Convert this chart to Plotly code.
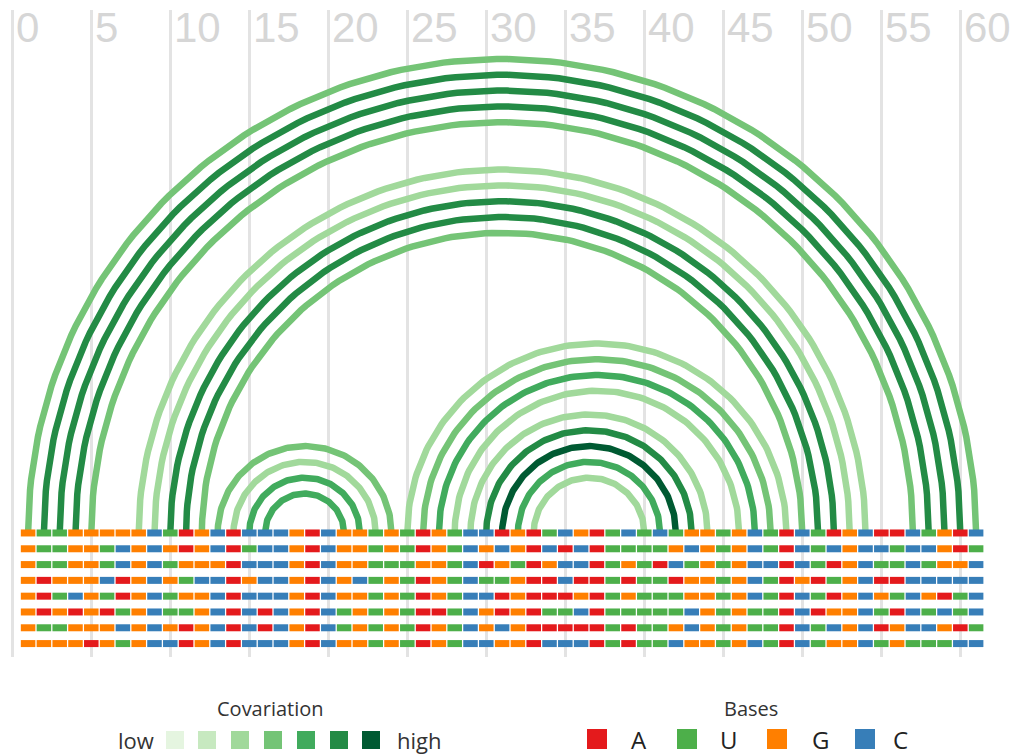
import numpy as np
import plotly.graph_objects as go

# Position ruler
tick_values = list(range(0, 61, 5))

# Base pairs: 5' partner, 3' partner, covariation level (1 = low ... 7 = high)
pair_start = [1, 2, 3, 4, 5, 8, 9, 10, 11, 12, 13, 14, 15, 16,
              25, 26, 27, 28, 29, 30, 31, 32, 33]
pair_end = [61, 60, 59, 58, 57, 54, 53, 52, 51, 50, 24, 23, 22, 21,
            49, 48, 47, 46, 44, 43, 42, 41, 40]
pair_level = [4, 6, 6, 6, 4, 3, 3, 6, 6, 4, 4, 3, 5, 5,
              3, 4, 5, 3, 3, 6, 7, 5, 3]

# Aligned sequences, one string per row (positions 1..61)
sequence_rows = [
    "GUUGGGGGCU" "AGCACCCGAC" "GGUGUAGUCC" "AGAUCGAUCU" "CUGGUGCUAC" "UAGCAACUGAC",
    "GUUGGUCGCG" "AGCAUCCGAC" "GGUGUAGUCG" "CGACACAUUU" "UGCGUGCUAC" "UCGCCUCCGAU",
    "GUUGGUCGCU" "GGGACCCGAC" "GGUUUGGUCA" "GUAGCCAUGU" "ACUGUGCCAC" "UAGCUUCUGGC",
    "GAGGGCAGCG" "UCCAGCCGAC" "GCUGUAGUCU" "UGAACAAUAU" "UAGGUGCUAG" "AUGCAACCCCC",
    "GAUCGUAGCU" "GGCACCCGAC" "GGUGUAGUCC" "AGAAAGAUGU" "UUGGUGCUAC" "UAGCGUCGAUC",
    "GAGAGAUGCU" "UGCACACGAC" "UGUGUAAUCG" "AGAUUCAUUU" "UUCGUGUUAC" "AGGCUACUCUC",
    "GUUGGGCGCG" "AGCACACGAC" "UGUGUAGUCG" "CGAAAAAUAU" "UGCGUGUUAC" "UCGCAGCCGAU",
    "GGGGAGUGCC" "AGCACCCGAC" "GGUGUAGUCC" "GGACCCAUAU" "UCGGUGCUAC" "UGGCUGUUUCC",
]

base_names = ["A", "U", "G", "C"]
base_colors = ["#e41a1c", "#4daf4a", "#ff7f00", "#377eb8"]
cov_colors = ["#e5f5e0", "#c7e9c0", "#a1d99b", "#74c476",
              "#41ab5d", "#238b45", "#005a32"]

fig = go.Figure()

# Arcs: semicircles joining paired positions
theta = np.linspace(0, np.pi, 140)
for s, e, lv in zip(pair_start, pair_end, pair_level):
    c = (s + e) / 2.0
    r = (e - s) / 2.0
    fig.add_trace(go.Scatter(
        x=c + r * np.cos(theta), y=r * np.sin(theta),
        mode="lines", line=dict(color=cov_colors[lv - 1], width=6.5),
        hoverinfo="skip", showlegend=False))

# Sequence rows: one short segment per nucleotide
for name, color in zip(base_names, base_colors):
    xs, ys = [], []
    for row, seq in enumerate(sequence_rows):
        for i, b in enumerate(seq, start=1):
            if b == name:
                xs += [i - 0.46, i + 0.46, None]
                ys += [-row, -row, None]
    fig.add_trace(go.Scatter(
        x=xs, y=ys, mode="lines", line=dict(color=color, width=7),
        hoverinfo="skip", showlegend=False))

annotations = []
# Ruler labels next to each grid line
for t in tick_values:
    annotations.append(dict(
        x=t, y=1, xref="x", yref="paper", xanchor="left", yanchor="top",
        text=str(t), showarrow=False, xshift=2, yshift=-2,
        font=dict(family="Liberation Sans, Arial", size=42, color="#d6d6d6")))

# Legend: covariation scale
leg_font = "Open Sans, Noto Sans, sans-serif"
cov_x = [175, 207, 240, 273, 306, 339, 371]
fig.add_trace(go.Scatter(
    x=cov_x, y=[740] * 7, xaxis="x2", yaxis="y2", mode="markers",
    marker=dict(symbol="square", size=18, color=cov_colors, line=dict(width=0)),
    hoverinfo="skip", showlegend=False))
annotations += [
    dict(x=270, y=708, xref="x2", yref="y2", text="Covariation", showarrow=False,
         font=dict(family=leg_font, size=20, color="#333333")),
    dict(x=156, y=740, xref="x2", yref="y2", text="low", showarrow=False, xanchor="right",
         font=dict(family=leg_font, size=22, color="#333333")),
    dict(x=395, y=740, xref="x2", yref="y2", text="high", showarrow=False, xanchor="left",
         font=dict(family=leg_font, size=22, color="#333333")),
]

# Legend: bases
base_sw_x = [597, 687, 777, 865]
base_lab_x = [639, 729, 820, 900]
fig.add_trace(go.Scatter(
    x=base_sw_x, y=[739] * 4, xaxis="x2", yaxis="y2", mode="markers",
    marker=dict(symbol="square", size=20, color=base_colors, line=dict(width=0)),
    hoverinfo="skip", showlegend=False))
annotations.append(dict(x=751, y=708, xref="x2", yref="y2", text="Bases", showarrow=False,
                        font=dict(family=leg_font, size=20, color="#333333")))
for lx, name in zip(base_lab_x, base_names):
    annotations.append(dict(x=lx, y=739, xref="x2", yref="y2", text=name, showarrow=False,
                            font=dict(family=leg_font, size=24, color="#222222")))

fig.update_layout(
    width=1027, height=755,
    margin=dict(l=0, r=0, t=0, b=0),
    paper_bgcolor="white", plot_bgcolor="white",
    showlegend=False,
    xaxis=dict(range=[-0.778, 64.22], domain=[0, 1], showgrid=True,
               gridcolor="#e3e3e3", gridwidth=2.5, tick0=0, dtick=5,
               showticklabels=False, zeroline=False, showline=False, ticks=""),
    yaxis=dict(range=[-7.85, 33.1], domain=[0.1298, 0.98675], showgrid=False,
               zeroline=False, showticklabels=False, showline=False, ticks=""),
    xaxis2=dict(domain=[0, 1], range=[0, 1027], anchor="y2", visible=False),
    yaxis2=dict(domain=[0, 0.12], range=[755, 664.4], anchor="x2", visible=False),
    annotations=annotations,
)

fig.write_html("out.html")
